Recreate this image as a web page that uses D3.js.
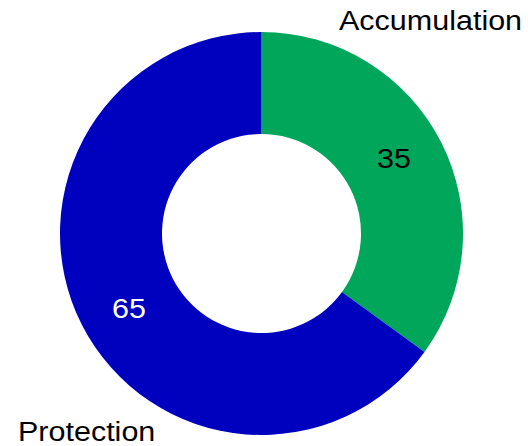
<!DOCTYPE html>
<html>
<head>
<meta charset="utf-8">
<script src="https://cdn.jsdelivr.net/npm/d3@7"></script>
<style>
  html, body { margin: 0; padding: 0; background: #fff; }
  svg { display: block; }
  text { font-family: "Liberation Sans", Arial, Helvetica, sans-serif; }
</style>
</head>
<body>
<svg id="chart" width="528" height="446"></svg>
<script>
// Share of portfolio by purpose
const categories = ["Accumulation", "Protection"];
const values = [35, 65];
const colors = ["#00a65a", "#0000bf"];
const valueTextColors = ["#000000", "#ffffff"];

const width = 528, height = 446;
const cx = 261.5, cy = 233.5;
const outerR = 201.5, innerR = 99.5;
const labelR = 152;
const fontSize = 27;
const stretch = 1.13; // labels are drawn slightly widened

const svg = d3.select("#chart");
const g = svg.append("g").attr("transform", `translate(${cx},${cy})`);

const pie = d3.pie().sort(null).value(d => d.value);
const arcs = pie(categories.map((c, i) => ({ name: c, value: values[i], i })));

const arc = d3.arc().innerRadius(innerR).outerRadius(outerR);
const labelArc = d3.arc().innerRadius(labelR).outerRadius(labelR);

g.selectAll("path.slice")
  .data(arcs)
  .join("path")
  .attr("class", "slice")
  .attr("d", arc)
  .attr("fill", d => colors[d.data.i]);

// Value labels inside the ring
g.selectAll("g.value")
  .data(arcs)
  .join("g")
  .attr("class", "value")
  .attr("transform", d => {
    const [x, y] = labelArc.centroid(d);
    // nudge the label a little counter-clockwise along the ring
    const a = Math.atan2(y, x) - 0.042;
    const r = Math.hypot(x, y);
    return `translate(${r * Math.cos(a)},${r * Math.sin(a)}) scale(${stretch},1)`;
  })
  .append("text")
  .attr("text-anchor", "middle")
  .attr("dy", "0.35em")
  .attr("font-size", fontSize)
  .attr("fill", d => valueTextColors[d.data.i])
  .text(d => d.data.value);

// Category names outside the ring
const nameSpots = [
  { x: 339 - cx, y: 30 - cy, anchor: "start" },
  { x: 18 - cx, y: 441 - cy, anchor: "start" }
];
g.selectAll("g.name")
  .data(arcs)
  .join("g")
  .attr("class", "name")
  .attr("transform", d => `translate(${nameSpots[d.data.i].x},${nameSpots[d.data.i].y}) scale(${stretch},1)`)
  .append("text")
  .attr("text-anchor", d => nameSpots[d.data.i].anchor)
  .attr("font-size", fontSize)
  .attr("fill", "#000")
  .text(d => d.data.name);
</script>
</body>
</html>
